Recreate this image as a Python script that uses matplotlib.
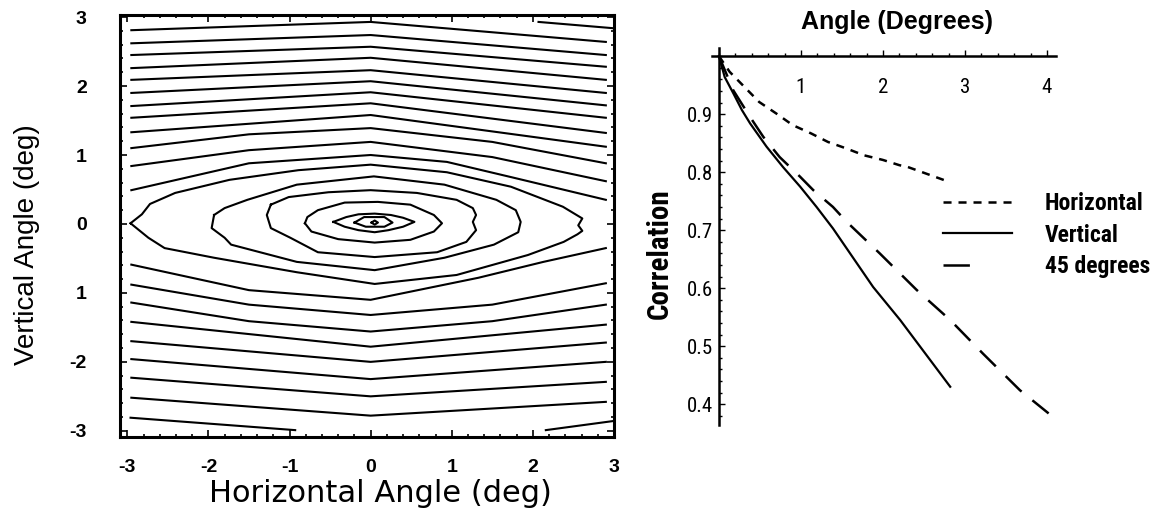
import numpy as np
import matplotlib.pyplot as plt
from matplotlib import font_manager
from matplotlib.lines import Line2D
from matplotlib.ticker import MultipleLocator, FixedLocator

plt.rcParams['lines.scale_dashes'] = False

# ---- left panel: correlation contours (deg) ----
# straight open contours above the peak, read at x = -2.95, 0, 2.9
line_x = [-2.95, 0.0, 2.9]
upper_left = [2.81, 2.62, 2.45, 2.26, 2.09, 1.90, 1.71, 1.54, 1.33]
upper_mid = [2.93, 2.74, 2.57, 2.41, 2.23, 2.07, 1.91, 1.75, 1.58]
upper_right = [2.64, 2.45, 2.28, 2.09, 1.90, 1.72, 1.54, 1.32, 1.12]

# straight open contours below the peak
lower_left = [-1.42, -1.70, -1.96, -2.23, -2.52]
lower_mid = [-1.78, -2.00, -2.25, -2.50, -2.78]
lower_right = [-1.46, -1.72, -2.00, -2.29, -2.58]

# rounded open contours close to the peak
arch1_x = [-2.95, -1.5, 0.0, 1.5, 2.9]
arch1_y = [1.10, 1.30, 1.39, 1.19, 0.88]
arch2_x = [-2.95, -1.5, 0.0, 1.5, 2.9]
arch2_y = [0.84, 1.07, 1.19, 0.97, 0.62]
arch3_x = [-2.95, -1.5, 0.0, 0.94, 1.73, 2.9]
arch3_y = [0.49, 0.88, 1.00, 0.90, 0.68, 0.35]
bowl1_x = [-2.95, -1.5, 0.0, 1.33, 2.13, 2.9]
bowl1_y = [-0.59, -0.96, -1.10, -0.78, -0.55, -0.35]
bowl2_x = [-2.95, -1.5, 0.0, 1.5, 2.9]
bowl2_y = [-0.88, -1.17, -1.32, -1.17, -0.86]
bowl3_x = [-2.95, -1.5, 0.0, 1.5, 2.9]
bowl3_y = [-1.14, -1.41, -1.56, -1.41, -1.17]
curved = [(arch1_x, arch1_y), (arch2_x, arch2_y), (arch3_x, arch3_y),
          (bowl1_x, bowl1_y), (bowl2_x, bowl2_y), (bowl3_x, bowl3_y)]

# pieces cut by the frame
edge_pieces = [
    ([2.07, 2.98], [2.93, 2.84]),
    ([-2.96, -0.93], [-2.81, -2.99]),
    ([2.16, 2.98], [-2.99, -2.86]),
]

# closed contours around the peak, innermost first
ring0_x = [0.01, 0.05, 0.09, 0.05]
ring0_y = [0.02, 0.05, 0.02, -0.01]
ring1_x = [-0.20, -0.08, 0.17, 0.27, 0.17, -0.06]
ring1_y = [0.02, 0.10, 0.10, 0.02, -0.04, -0.04]
ring2_x = [-0.46, -0.30, -0.15, 0.05, 0.25, 0.40, 0.54, 0.40, 0.22, 0.05, -0.15, -0.32]
ring2_y = [0.03, 0.10, 0.14, 0.15, 0.13, 0.09, 0.03, -0.04, -0.09, -0.12, -0.09, -0.04]
ring3_x = [-0.81, -0.78, -0.65, -0.32, 0.09, 0.49, 0.78, 0.88, 0.78, 0.49, 0.05, -0.40, -0.73]
ring3_y = [0.01, 0.10, 0.20, 0.31, 0.32, 0.28, 0.13, 0.01, -0.11, -0.23, -0.27, -0.22, -0.11]
ring4_x = [-1.23, -1.01, -0.52, 0.0, 0.57, 1.06, 1.26, 1.30, 1.26, 1.30, 1.18, 0.82, 0.05,
           -0.65, -0.99, -1.23, -1.28]
ring4_y = [0.28, 0.39, 0.46, 0.49, 0.45, 0.35, 0.23, 0.13, 0.03, -0.09, -0.26, -0.41, -0.48,
           -0.41, -0.20, -0.06, 0.13]
ring5_x = [-1.93, -1.80, -1.52, -0.91, 0.04, 0.91, 1.55, 1.79, 1.85, 1.82, 1.52, 0.91, 0.05,
           -0.91, -1.72, -1.80, -1.96]
ring5_y = [0.13, 0.23, 0.35, 0.57, 0.69, 0.57, 0.35, 0.20, 0.03, -0.12, -0.30, -0.49, -0.67,
           -0.55, -0.30, -0.20, -0.06]
ring6_x = [-2.96, -2.82, -2.72, -2.41, -1.74, -0.89, 0.0, 0.94, 1.73, 2.37, 2.61, 2.56, 2.61,
           2.55, 2.38, 1.94, 1.06, 0.05, -0.91, -1.93, -2.54, -2.74]
ring6_y = [0.01, 0.14, 0.29, 0.45, 0.64, 0.78, 0.86, 0.75, 0.54, 0.25, 0.08, -0.02, -0.10,
           -0.15, -0.26, -0.45, -0.74, -0.87, -0.70, -0.49, -0.35, -0.20]
rings = [(ring0_x, ring0_y), (ring1_x, ring1_y), (ring2_x, ring2_y), (ring3_x, ring3_y),
         (ring4_x, ring4_y), (ring5_x, ring5_y), (ring6_x, ring6_y)]

ticks_lr = [-3, -2, -1, 0, 1, 2, 3]
xtick_labels = ['-3', '-2', '-1', '0', '1', '2', '3']
ytick_labels = ['-3', '-2', '1', '0', '1', '2', '3']

# ---- right panel: correlation against angle ----
horiz_x = [0.0, 0.13, 0.31, 0.49, 0.70, 0.90, 1.12, 1.33, 1.55, 1.77, 2.00, 2.20, 2.30, 2.81]
horiz_y = [1.0, 0.973, 0.947, 0.921, 0.901, 0.881, 0.867, 0.852, 0.841, 0.829, 0.821, 0.812, 0.809, 0.783]
vert_x = [0.0, 0.07, 0.175, 0.28, 0.38, 0.58, 0.78, 0.99, 1.19, 1.39, 1.88, 2.21, 2.82]
vert_y = [1.0, 0.964, 0.936, 0.907, 0.884, 0.844, 0.809, 0.775, 0.740, 0.703, 0.602, 0.545, 0.430]
diag_x = [0.0, 0.175, 0.38, 0.54, 0.74, 0.99, 1.15, 1.39, 1.56, 1.96, 2.41, 2.82, 3.22, 3.67, 4.02]
diag_y = [1.0, 0.941, 0.895, 0.861, 0.826, 0.792, 0.769, 0.740, 0.714, 0.660, 0.597, 0.545, 0.487, 0.424, 0.384]
series_names = ['Horizontal', 'Vertical', '45 degrees']

short_dash = (5.8, 5.0)
long_dash = (16.0, 10.0)

# a narrow face for the right-hand labels, if one is installed
installed = {(f.name, f.stretch) for f in font_manager.fontManager.ttflist}
names = {n for n, _ in installed}
narrow = {'family': 'Liberation Sans'}
shrink = 0.8
for cand in ['Liberation Sans Narrow', 'Roboto Condensed', 'Arial Narrow']:
    if cand in names:
        narrow = {'family': cand}
        shrink = 1.0
        break
else:
    for n, s in installed:
        if n == 'DejaVu Sans' and 'condensed' in str(s):
            narrow = {'family': 'DejaVu Sans', 'stretch': 'condensed'}
            shrink = 0.9
            break

fig = plt.figure(figsize=(11.56, 5.13), dpi=100)

ax = fig.add_axes([0.1038, 0.1481, 0.4273, 0.8226])
for i in range(len(upper_mid)):
    ax.plot(line_x, [upper_left[i], upper_mid[i], upper_right[i]], color='k', lw=1.5)
for i in range(len(lower_mid)):
    ax.plot(line_x, [lower_left[i], lower_mid[i], lower_right[i]], color='k', lw=1.5)
for cx, cy in curved:
    ax.plot(cx, cy, color='k', lw=1.5)
for px, py in edge_pieces:
    ax.plot(px, py, color='k', lw=1.5)
for rx, ry in rings:
    ax.plot(rx + rx[:1], ry + ry[:1], color='k', lw=1.5, solid_joinstyle='round')

ax.set_xlim(-3.09, 3.0)
ax.set_ylim(-3.09, 3.03)
ax.xaxis.set_major_locator(FixedLocator(ticks_lr))
ax.yaxis.set_major_locator(FixedLocator(ticks_lr))
ax.set_xticklabels(xtick_labels, fontweight='bold', fontsize=14, family='Liberation Sans')
ax.set_yticklabels(ytick_labels, fontweight='bold', fontsize=14, family='Liberation Sans')
ax.xaxis.set_minor_locator(MultipleLocator(0.2))
ax.yaxis.set_minor_locator(MultipleLocator(0.2))
ax.tick_params(which='both', direction='in', top=True, right=True, width=1.2)
ax.tick_params(which='major', length=5)
ax.tick_params(which='minor', length=2.5)
ax.tick_params(axis='x', which='major', pad=16)
ax.tick_params(axis='y', which='major', pad=24)
for s in ax.spines.values():
    s.set_linewidth(2.2)
fig.text(380 / 1156, 1 - 494 / 513, 'Horizontal Angle (deg)', fontsize=22,
         family='DejaVu Sans', ha='center', va='center')
fig.text(27 / 1156, 1 - 245 / 513, 'Vertical Angle (deg)', fontsize=20,
         family='Liberation Sans', rotation=90, ha='center', va='center')

# right panel with axes crossing at (0, 1)
ax2 = fig.add_axes([0.6159, 0.1715, 0.2976, 0.7349])
ax2.plot(horiz_x, horiz_y, color='k', lw=1.8, dashes=short_dash)
ax2.plot(vert_x, vert_y, color='k', lw=1.6)
ax2.plot(diag_x, diag_y, color='k', lw=1.8, dashes=long_dash)
ax2.set_xlim(-0.085, 4.11)
ax2.set_ylim(0.364, 1.014)
ax2.spines['top'].set_visible(False)
ax2.spines['right'].set_visible(False)
ax2.spines['bottom'].set_position(('data', 1.0))
ax2.spines['left'].set_position(('data', 0.0))
ax2.spines['bottom'].set_linewidth(1.8)
ax2.spines['left'].set_linewidth(1.8)
ax2.xaxis.set_major_locator(FixedLocator([1, 2, 3, 4]))
ax2.yaxis.set_major_locator(FixedLocator([0.4, 0.5, 0.6, 0.7, 0.8, 0.9]))
tick_font = dict(narrow, size=15 * shrink)
ax2.set_xticklabels(['1', '2', '3', '4'], fontdict=tick_font)
ax2.set_yticklabels(['0.4', '0.5', '0.6', '0.7', '0.8', '0.9'], fontdict=tick_font)
ax2.xaxis.set_minor_locator(MultipleLocator(0.2))
ax2.yaxis.set_minor_locator(MultipleLocator(0.02))
ax2.tick_params(which='both', direction='in', width=1.0)
ax2.tick_params(which='major', length=4)
ax2.tick_params(which='minor', length=2.5)
ax2.tick_params(axis='x', which='major', pad=16)
ax2.tick_params(axis='y', which='major', pad=4)

fig.text(0.776, 0.957, 'Angle (Degrees)', fontsize=18, fontweight='bold',
         family='Liberation Sans', ha='center', va='center')
fig.text(0.571, 0.505, 'Correlation', fontsize=21 * shrink, fontweight='bold',
         rotation=90, ha='center', va='center', **narrow)

handles = [Line2D([], [], color='k', lw=1.8, dashes=short_dash),
           Line2D([], [], color='k', lw=1.6),
           Line2D([], [], color='k', lw=1.8, dashes=(19.0, 40.0))]
leg_font = dict(narrow, weight='bold', size=17 * shrink)
leg = fig.legend(handles, series_names, loc='upper left',
                 bbox_to_anchor=(0.816, 0.625), bbox_transform=fig.transFigure,
                 frameon=False, borderpad=0, borderaxespad=0, handlelength=2.9 / shrink,
                 handletextpad=1.4 / shrink, labelspacing=0.35 / shrink, prop=leg_font)

fig.savefig('out.png', dpi=100)
